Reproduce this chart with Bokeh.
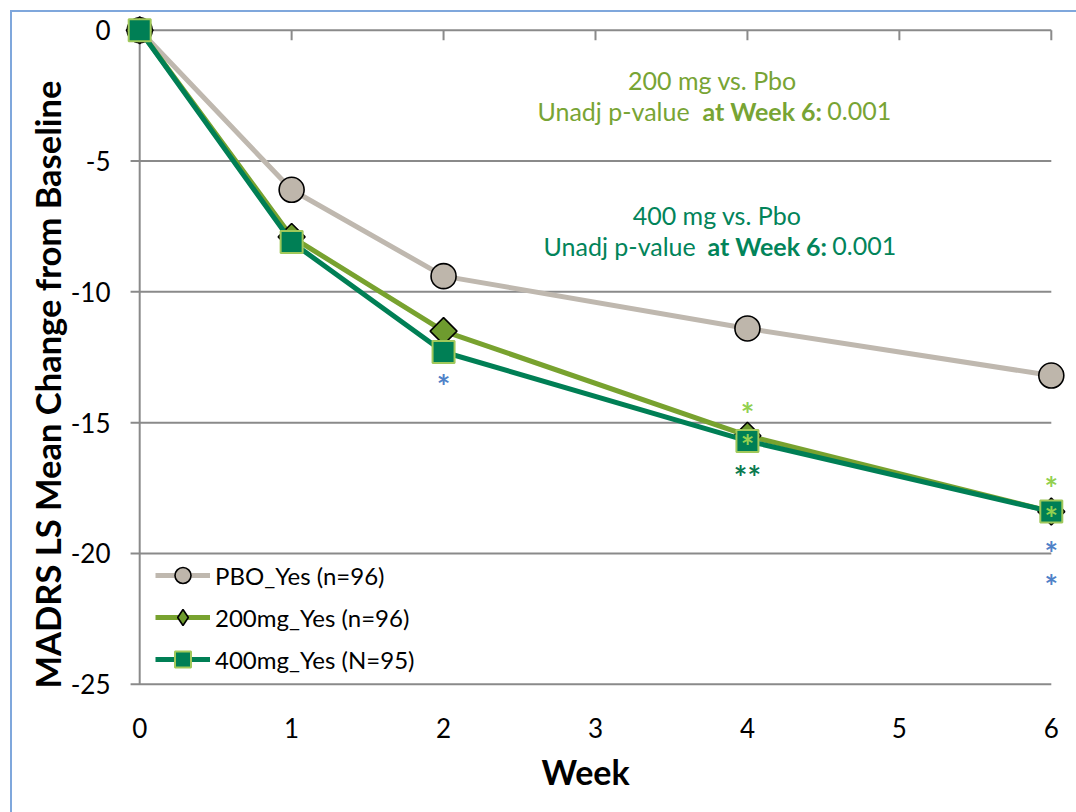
import math
from bokeh.plotting import figure
from bokeh.models import Range1d, FixedTicker, Legend, LegendItem, ColumnDataSource, Title
from bokeh.core.properties import value
from bokeh.embed import file_html
from bokeh.resources import INLINE

# ---------------- data ----------------
weeks = [0, 1, 2, 4, 6]
pbo_vals = [0, -6.1, -9.4, -11.4, -13.2]
mg200_vals = [0, -7.9, -11.5, -15.5, -18.4]
mg400_vals = [0, -8.1, -12.3, -15.7, -18.4]
series_labels = ["PBO_Yes (n=96)", "200mg_Yes (n=96)", "400mg_Yes (N=95)"]

x_ticks = [0, 1, 2, 3, 4, 5, 6]
y_ticks = [0, -5, -10, -15, -20, -25]

# significance markers (week, y position, text, group)
star_week = [2, 4, 4, 4, 6, 6, 6, 6]
star_y = [-13.3, -14.4, -15.6, -16.8, -17.2, -18.35, -19.7, -20.95]
star_text = ["*", "*", "*", "**", "*", "*", "*", "*"]
star_group = ["blue", "light", "light", "dark", "light", "light", "blue", "blue"]

# annotation text blocks
ann_title = ["200 mg vs. Pbo", "400 mg vs. Pbo"]
ann_pre = ["Unadj p-value", "Unadj p-value"]
ann_bold = ["at Week 6:", "at Week 6:"]
ann_val = ["0.001", "0.001"]
ann_title_x = [3.77, 3.80]
ann_title_y = [-1.91, -7.07]
ann_line2_y = [-3.10, -8.26]
ann_pre_x = [2.618, 2.658]
ann_bold_x = [3.704, 3.737]
ann_val_x = [4.526, 4.559]

x_title = "Week"
y_title = "MADRS LS Mean Change from Baseline"

# ---------------- styles ----------------
FONT = "Lato"
GRID = "#8A8A8A"
PBO_LINE, PBO_FILL = "#BFB8AF", "#BEB6AB"
G200_LINE, G200_FILL = "#78A22F", "#6E9B2E"
G400_LINE, G400_EDGE = "#007F55", "#A0C85A"
TXT200, TXT400 = "#78A434", "#02845A"
STAR_COLORS = {"blue": "#4F81C8", "light": "#92D050", "dark": "#0B7A4F"}
BORDER = "2px solid #7FA7DC"

p = figure(
    frame_width=942, frame_height=675,
    x_range=Range1d(-0.1, 6.1), y_range=Range1d(-25.2, 0.6),
    output_backend="svg", toolbar_location=None,
    min_border_left=112, min_border_right=10, min_border_top=2, min_border_bottom=123,
    styles={"border-left": BORDER, "border-top": BORDER,
            "margin-left": "10px", "margin-top": "10px"},
)
p.outline_line_color = None
p.xgrid.visible = False
p.ygrid.visible = False

# axes
for ax in (p.xaxis[0], p.yaxis[0]):
    ax.axis_line_color = None
    ax.major_tick_line_color = None
    ax.minor_tick_line_color = None
    ax.major_label_text_font = FONT
    ax.major_label_text_font_size = "26px"
    ax.major_label_text_color = "black"

p.xaxis.ticker = FixedTicker(ticks=x_ticks)
p.yaxis.ticker = FixedTicker(ticks=y_ticks)
p.yaxis.major_label_overrides = {t: str(t) for t in y_ticks}
p.xaxis.major_label_standoff = 22
p.yaxis.major_label_standoff = 8

# axis titles as side titles (allow the same off-centre placement as the original)
p.add_layout(Title(text=y_title, align="left", offset=1, vertical_align="bottom", standoff=0,
                   text_font=FONT, text_font_size="34.5px", text_font_style="bold",
                   text_color="black"), "left")
p.add_layout(Title(text=x_title, align="left", offset=417, vertical_align="top", standoff=20,
                   text_font=FONT, text_font_size="34px", text_font_style="bold",
                   text_color="black"), "below")

# gridlines / axis lines drawn as segments
p.segment(x0=[-0.06] * len(y_ticks), x1=[max(x_ticks)] * len(y_ticks), y0=y_ticks, y1=y_ticks,
          line_color=GRID, line_width=2)
p.segment(x0=[0], x1=[0], y0=[max(y_ticks)], y1=[min(y_ticks)], line_color=GRID, line_width=2)
p.segment(x0=x_ticks[1:], x1=x_ticks[1:], y0=[0] * (len(x_ticks) - 1), y1=[-0.38] * (len(x_ticks) - 1),
          line_color=GRID, line_width=2)

# series
l1 = p.line(weeks, pbo_vals, line_color=PBO_LINE, line_width=5)
m1 = p.scatter(weeks, pbo_vals, marker="circle", size=25, fill_color=PBO_FILL,
               line_color="black", line_width=1.6)
l2 = p.line(weeks, mg200_vals, line_color=G200_LINE, line_width=5)
# legend diamond (legend glyphs are drawn unrotated); hidden under the baseline markers
m2_leg = p.scatter(weeks[:1], mg200_vals[:1], marker="diamond", size=17, fill_color=G200_FILL,
                   line_color="black", line_width=1.6)
m2 = p.scatter(weeks, mg200_vals, marker="square", angle=math.pi / 4, size=19, fill_color=G200_FILL,
               line_color="black", line_width=1.6)
l3 = p.line(weeks, mg400_vals, line_color=G400_LINE, line_width=5)
m3 = p.scatter(weeks, mg400_vals, marker="square", size=22, fill_color=G400_LINE,
               line_color=G400_EDGE, line_width=2)

# stars
star_src = ColumnDataSource(dict(x=star_week, y=star_y, t=star_text,
                                 c=[STAR_COLORS[g] for g in star_group]))
p.text(x="x", y="y", text="t", source=star_src, text_color="c", text_font=value(FONT),
       text_font_size="32px", text_font_style="bold", text_align="center", text_baseline="middle",
       y_offset=8)

# annotations
for i in range(2):
    col = TXT200 if i == 0 else TXT400
    p.text(x=[ann_title_x[i]], y=[ann_title_y[i]], text=[ann_title[i]], text_color=col,
           text_font=value(FONT), text_font_size="25px", text_align="center", text_baseline="middle")
    p.text(x=[ann_pre_x[i]], y=[ann_line2_y[i]], text=[ann_pre[i]], text_color=col,
           text_font=value(FONT), text_font_size="25px", text_align="left", text_baseline="middle")
    p.text(x=[ann_bold_x[i]], y=[ann_line2_y[i]], text=[ann_bold[i]], text_color=col,
           text_font=value(FONT), text_font_size="25px", text_font_style="bold",
           text_align="left", text_baseline="middle")
    p.text(x=[ann_val_x[i]], y=[ann_line2_y[i]], text=[ann_val[i]], text_color=col,
           text_font=value(FONT), text_font_size="25px", text_align="left", text_baseline="middle")

legend = Legend(items=[
    LegendItem(label=series_labels[0], renderers=[l1, m1]),
    LegendItem(label=series_labels[1], renderers=[l2, m2_leg]),
    LegendItem(label=series_labels[2], renderers=[l3, m3]),
], location=(31, 10))
legend.border_line_color = None
legend.background_fill_alpha = 0
legend.padding = 0
legend.margin = 0
legend.spacing = 2
legend.glyph_width = 55
legend.glyph_height = 40
legend.label_height = 40
legend.label_standoff = 5
legend.label_text_font = FONT
legend.label_text_font_size = "24px"
legend.label_text_color = "black"
p.add_layout(legend)

open("out.html", "w").write(file_html(p, INLINE))
